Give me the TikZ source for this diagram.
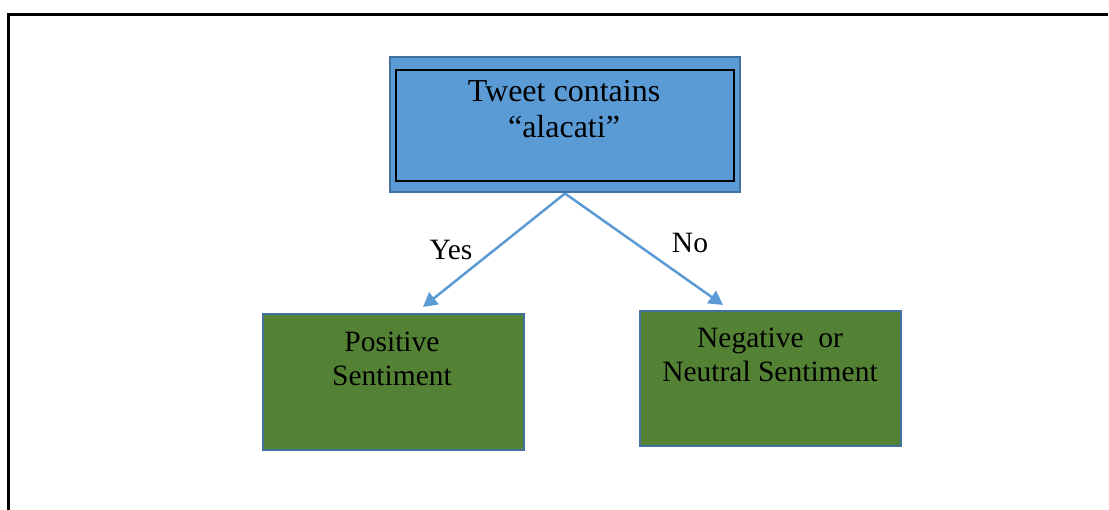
\documentclass[tikz,border=0pt]{standalone}
\usepackage{fontspec}
\setmainfont{Liberation Serif}
\usetikzlibrary{arrows.meta}
\definecolor{boxblue}{HTML}{5B9BD5}
\definecolor{edgeblue}{HTML}{41719C}
\definecolor{boxgreen}{HTML}{548235}
\begin{document}
\begin{tikzpicture}[x=1pt,y=-1pt,
  box/.style={draw=edgeblue,line width=2pt,minimum width=#1,inner sep=0pt,anchor=north west},
  lbl/.style={align=center,anchor=base,inner sep=0pt,font=\fontsize{32}{36}\selectfont},
  lbls/.style={align=center,anchor=base,inner sep=0pt,font=\fontsize{29.5}{34.5}\selectfont},
  conn/.style={draw=boxblue,line width=2.5pt,-{Triangle[length=14pt,width=15pt]}}]
\useasboundingbox (0,0) rectangle (1109,510);
\draw[line width=3pt,black] (8.5,510) -- (8.5,14.5) -- (1108,14.5);
% top box
\node[box=350pt,minimum height=135pt,fill=boxblue] (top) at (389,56.5) {};
\node[draw=black,line width=2pt,minimum width=338pt,minimum height=111pt,inner sep=0pt,anchor=north west] (inner) at (395,69) {};
\node[lbl] (toptxt) at (564,138) {Tweet contains\\“alacati”};
% bottom boxes
\node[box=261pt,minimum height=136pt,fill=boxgreen] (pos) at (262,313) {};
\node[lbls] (postxt) at (392,386) {Positive\\Sentiment};
\node[box=261pt,minimum height=135pt,fill=boxgreen] (neg) at (639,310) {};
\node[lbls] (negtxt) at (770,382) {Negative\ \ or\\Neutral Sentiment};
% connectors
\coordinate (yesend) at (423,307);
\coordinate (noend) at (723,305);
\draw[conn] (top.south) -- (yesend);
\draw[conn] (top.south) -- (noend);
\node[lbls,anchor=base] (yes) at (451,260) {Yes};
\node[lbls,anchor=base] (no) at (690,253) {No};
\end{tikzpicture}
\end{document}
